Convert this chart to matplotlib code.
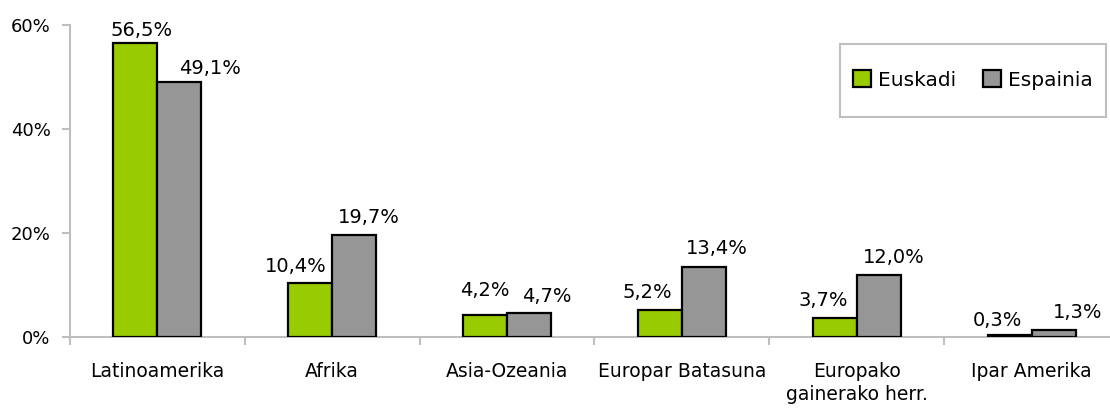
#!/usr/bin/env python3
# Euskadi vs Espainia, origin of foreign population

import numpy as np
import matplotlib.pyplot as plt
from matplotlib.patches import Rectangle
from matplotlib.ticker import FixedLocator

# Data
categories = ["Latinoamerika", "Afrika", "Asia-Ozeania", "Europar Batasuna",
              "Europako\ngainerako herr.", "Ipar Amerika"]
euskadi = [56.5, 10.4, 4.2, 5.2, 3.7, 0.3]
espainia = [49.1, 19.7, 4.7, 13.4, 12.0, 1.3]
series_names = ["Euskadi", "Espainia"]
yticks = [0, 20, 40, 60]

# Style
green = "#99CC00"
gray = "#969696"
axis_gray = "#BFBFBF"

# Label nudges in pixels (dx, gap between baseline and bar top)
nudge_eus = [(6, 7), (-14, 11), (0, 19), (-13, 12), (-11, 12), (-12, 9)]
nudge_esp = [(31, 8), (15, 12), (18, 11), (13, 13), (15, 12), (24, 12)]


def fmt(v):
    return f"{v:.1f}%".replace(".", ",")


fig = plt.figure(figsize=(11.10, 4.11), dpi=100)
ax = fig.add_axes([70 / 1110, 74 / 411, 1049 / 1110, 312 / 411])

x = np.arange(len(categories))
w = 0.252
b1 = ax.bar(x - w / 2, euskadi, w, color=green, edgecolor="black",
            linewidth=1.6, label=series_names[0])
b2 = ax.bar(x + w / 2, espainia, w, color=gray, edgecolor="black",
            linewidth=1.6, label=series_names[1])

# Value labels
for bars, vals, nudges in ((b1, euskadi, nudge_eus), (b2, espainia, nudge_esp)):
    for rect, v, (dx, dy) in zip(bars, vals, nudges):
        ax.annotate(fmt(v), (rect.get_x() + rect.get_width() / 2, v),
                    xytext=(dx, dy), textcoords="offset pixels",
                    ha="center", va="baseline", fontsize=14)

# Axes formatting
ax.set_xlim(-0.5, len(categories) - 0.5)
ax.set_ylim(0, 60)
ax.set_yticks(yticks)
ax.set_yticklabels([f"{t}%" for t in yticks], fontsize=13)
ax.set_xticks(x)
ax.set_xticklabels(categories, fontsize=13.5, linespacing=1.25)
ax.tick_params(axis="x", which="major", length=0, pad=18)
ax.xaxis.set_minor_locator(FixedLocator(np.arange(len(categories) + 1) - 0.5))
ax.tick_params(axis="x", which="minor", length=6, color=axis_gray, width=1.5)
ax.tick_params(axis="y", length=6, color=axis_gray, width=1.5, pad=8)

for side in ("top", "right"):
    ax.spines[side].set_visible(False)
for side in ("left", "bottom"):
    ax.spines[side].set_color(axis_gray)
    ax.spines[side].set_linewidth(1.5)
ax.spines["bottom"].set_zorder(0.5)

# Legend with a plain grey box
handles, labels = ax.get_legend_handles_labels()
fig.legend(handles, labels, loc="center",
           bbox_to_anchor=(973 / 1110, 1 - 80 / 411),
           ncol=2, fontsize=14.5, frameon=False,
           handlelength=0.9, handleheight=0.9, handletextpad=0.35,
           columnspacing=1.3, borderpad=0)
fig.patches.append(Rectangle((840 / 1110, 1 - 117 / 411), 266 / 1110, 73 / 411,
                             transform=fig.transFigure, fill=False,
                             edgecolor=axis_gray, linewidth=1.5))

fig.savefig("out.png", dpi=100)
